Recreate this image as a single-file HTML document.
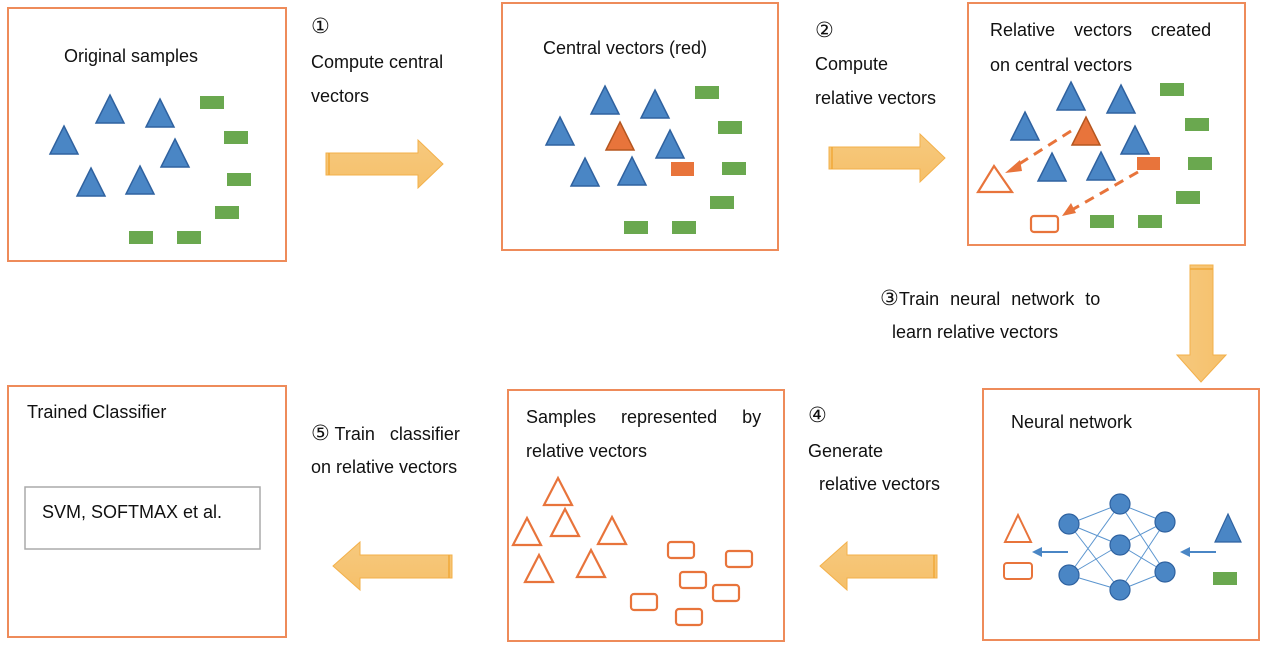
<!DOCTYPE html>
<html><head><meta charset="utf-8"><style>
html,body{margin:0;padding:0;background:#fff;}
svg{display:block;}
text{font-family:"Liberation Sans","DejaVu Sans",sans-serif;font-size:18px;fill:#111;}
</style></head><body>
<svg width="1271" height="653" viewBox="0 0 1271 653" xmlns="http://www.w3.org/2000/svg">
<defs>
<symbol id="bt" overflow="visible"><polygon points="0,0 14,28 -14,28" fill="#4A86C5" stroke="#2F62A0" stroke-width="1.5"/></symbol>
<symbol id="ot" overflow="visible"><polygon points="0,0 14,27 -14,27" fill="#fff" stroke="#E8743B" stroke-width="2.2"/></symbol>
<symbol id="gr" overflow="visible"><rect x="0" y="0" width="24" height="13" fill="#6AA84F"/></symbol>
<symbol id="or" overflow="visible"><rect x="0" y="0" width="26" height="16" rx="3" fill="#fff" stroke="#E8743B" stroke-width="2.2"/></symbol>
<linearGradient id="ag" x1="0" y1="0" x2="0" y2="1"><stop offset="0" stop-color="#F7C97E"/><stop offset="1" stop-color="#F5C06A"/></linearGradient>
<linearGradient id="agv" x1="0" y1="0" x2="1" y2="0"><stop offset="0" stop-color="#F7C97E"/><stop offset="1" stop-color="#F5C06A"/></linearGradient>
</defs>
<g fill="none" stroke="#EE8B5A" stroke-width="2">
<rect x="8" y="8" width="278" height="253"/>
<rect x="502" y="3" width="276" height="247"/>
<rect x="968" y="3" width="277" height="242"/>
<rect x="983" y="389" width="276" height="251"/>
<rect x="508" y="390" width="276" height="251"/>
<rect x="8" y="386" width="278" height="251"/>
</g>
<g fill="url(#ag)" stroke="#F3B04A" stroke-width="1">
<polygon points="326,153 418,153 418,140 443,164 418,188 418,175 326,175"/>
<polygon points="829,147 920,147 920,134 945,158 920,182 920,169 829,169"/>
<polygon points="937,555 847,555 847,542 820,566 847,590 847,578 937,578"/>
<polygon points="452,555 360,555 360,542 333,566 360,590 360,578 452,578"/>
</g>
<polygon points="1190,265 1213,265 1213,355 1226,355 1201,382 1177,355 1190,355" fill="url(#agv)" stroke="#F3B04A" stroke-width="1"/>
<g stroke="#F0A838" stroke-width="1.5">
<line x1="329" y1="153" x2="329" y2="175"/><line x1="832" y1="147" x2="832" y2="169"/>
<line x1="934" y1="555" x2="934" y2="578"/><line x1="449" y1="555" x2="449" y2="578"/>
<line x1="1190" y1="269" x2="1213" y2="269"/>
</g>
<text x="64" y="62">Original samples</text>
<use href="#bt" x="110" y="95"/><use href="#bt" x="160" y="99"/><use href="#bt" x="64" y="126"/>
<use href="#bt" x="175" y="139"/><use href="#bt" x="91" y="168"/><use href="#bt" x="140" y="166"/>
<use href="#gr" x="200" y="96"/><use href="#gr" x="224" y="131"/><use href="#gr" x="227" y="173"/>
<use href="#gr" x="215" y="206"/><use href="#gr" x="129" y="231"/><use href="#gr" x="177" y="231"/>
<text x="311" y="33" style="font-size:21px">①</text>
<text x="311" y="68">Compute central</text>
<text x="311" y="102">vectors</text>
<text x="543" y="54">Central vectors (red)</text>
<use href="#bt" x="605" y="86"/><use href="#bt" x="655" y="90"/><use href="#bt" x="560" y="117"/>
<polygon points="620,122 634,150 606,150" fill="#E8743B" stroke="#B5561F" stroke-width="1.5"/>
<use href="#bt" x="670" y="130"/><use href="#bt" x="585" y="158"/><use href="#bt" x="632" y="157"/>
<rect x="671" y="162" width="23" height="14" fill="#E8743B"/>
<use href="#gr" x="695" y="86"/><use href="#gr" x="718" y="121"/><use href="#gr" x="722" y="162"/>
<use href="#gr" x="710" y="196"/><use href="#gr" x="624" y="221"/><use href="#gr" x="672" y="221"/>
<text x="815" y="37" style="font-size:21px">②</text>
<text x="815" y="70">Compute</text>
<text x="815" y="104">relative vectors</text>
<text x="990" y="36" style="word-spacing:14px">Relative vectors created</text>
<text x="990" y="71">on central vectors</text>
<use href="#bt" x="1071" y="82"/><use href="#bt" x="1121" y="85"/><use href="#bt" x="1025" y="112"/>
<polygon points="1086,117 1100,145 1072,145" fill="#E8743B" stroke="#B5561F" stroke-width="1.5"/>
<use href="#bt" x="1135" y="126"/><use href="#bt" x="1052" y="153"/><use href="#bt" x="1101" y="152"/>
<rect x="1137" y="157" width="23" height="13" fill="#E8743B"/>
<polygon points="994,166 1012,192 978,192" fill="#fff" stroke="#E8743B" stroke-width="2.2"/>
<rect x="1031" y="216" width="27" height="16" rx="3" fill="#fff" stroke="#E8743B" stroke-width="2.2"/>
<use href="#gr" x="1160" y="83"/><use href="#gr" x="1185" y="118"/><use href="#gr" x="1188" y="157"/>
<use href="#gr" x="1176" y="191"/><use href="#gr" x="1090" y="215"/><use href="#gr" x="1138" y="215"/>
<g stroke="#E8743B" stroke-width="3" stroke-dasharray="10,7">
<line x1="1071" y1="131" x2="1016" y2="166"/>
<line x1="1138" y1="172" x2="1070" y2="211"/>
</g>
<polygon points="1005,173 1020,160 1022,171" fill="#E8743B"/>
<polygon points="1062,216 1071,203 1076,213" fill="#E8743B"/>
<text x="880" y="305" style="word-spacing:6px"><tspan style="font-size:21px">③</tspan>Train neural network to</text>
<text x="892" y="338">learn relative vectors</text>
<text x="1011" y="428">Neural network</text>
<g stroke="#5B95CF" stroke-width="1">
<line x1="1069" y1="524" x2="1120" y2="504"/><line x1="1069" y1="524" x2="1120" y2="545"/><line x1="1069" y1="524" x2="1120" y2="590"/>
<line x1="1069" y1="575" x2="1120" y2="504"/><line x1="1069" y1="575" x2="1120" y2="545"/><line x1="1069" y1="575" x2="1120" y2="590"/>
<line x1="1165" y1="522" x2="1120" y2="504"/><line x1="1165" y1="522" x2="1120" y2="545"/><line x1="1165" y1="522" x2="1120" y2="590"/>
<line x1="1165" y1="572" x2="1120" y2="504"/><line x1="1165" y1="572" x2="1120" y2="545"/><line x1="1165" y1="572" x2="1120" y2="590"/>
</g>
<g fill="#4A86C5" stroke="#2F62A0" stroke-width="1.2">
<circle cx="1069" cy="524" r="10"/><circle cx="1069" cy="575" r="10"/>
<circle cx="1120" cy="504" r="10"/><circle cx="1120" cy="545" r="10"/><circle cx="1120" cy="590" r="10"/>
<circle cx="1165" cy="522" r="10"/><circle cx="1165" cy="572" r="10"/>
</g>
<g stroke="#4A86C5" stroke-width="2"><line x1="1068" y1="552" x2="1040" y2="552"/><line x1="1216" y1="552" x2="1188" y2="552"/></g>
<polygon points="1032,552 1042,547 1042,557" fill="#4A86C5"/>
<polygon points="1180,552 1190,547 1190,557" fill="#4A86C5"/>
<polygon points="1018,515 1031,542 1005,542" fill="#fff" stroke="#E8743B" stroke-width="2"/>
<rect x="1004" y="563" width="28" height="16" rx="3" fill="#fff" stroke="#E8743B" stroke-width="2"/>
<polygon points="1228,514 1241,542 1215,542" fill="#4A86C5" stroke="#2F62A0" stroke-width="1.2"/>
<rect x="1213" y="572" width="24" height="13" fill="#6AA84F"/>
<text x="808" y="422" style="font-size:21px">④</text>
<text x="808" y="457">Generate</text>
<text x="819" y="490">relative vectors</text>
<text x="526" y="423" style="word-spacing:20px">Samples represented by</text>
<text x="526" y="457">relative vectors</text>
<use href="#ot" x="558" y="478"/><use href="#ot" x="565" y="509"/><use href="#ot" x="527" y="518"/>
<use href="#ot" x="612" y="517"/><use href="#ot" x="539" y="555"/><use href="#ot" x="591" y="550"/>
<use href="#or" x="668" y="542"/><use href="#or" x="726" y="551"/><use href="#or" x="680" y="572"/>
<use href="#or" x="713" y="585"/><use href="#or" x="631" y="594"/><use href="#or" x="676" y="609"/>
<text x="311" y="440"><tspan style="font-size:21px">⑤</tspan> Train&#160;&#160; classifier</text>
<text x="311" y="473">on relative vectors</text>
<text x="27" y="418">Trained Classifier</text>
<rect x="25" y="487" width="235" height="62" fill="#fff" stroke="#AAAAAA" stroke-width="1.5"/>
<text x="42" y="518">SVM, SOFTMAX et al.</text>
</svg>
</body></html>
